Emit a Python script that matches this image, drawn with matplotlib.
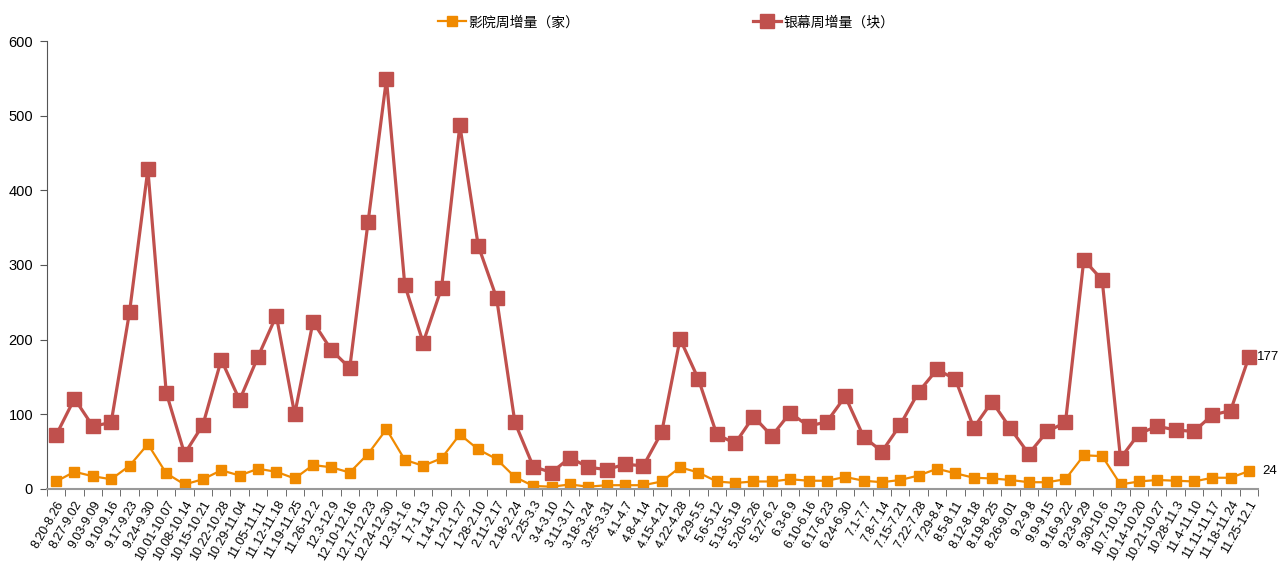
import matplotlib
matplotlib.use("Agg")
import matplotlib.pyplot as plt

plt.rcParams['font.family'] = ['Liberation Sans', 'Noto Sans CJK SC', 'DejaVu Sans']

weeks = ['8.20-8.26', '8.27-9.02', '9.03-9.09', '9.10-9.16', '9.17-9.23', '9.24-9.30',
         '10.01-10.07', '10.08-10.14', '10.15-10.21', '10.22-10.28', '10.29-11.04',
         '11.05-11.11', '11.12-11.18', '11.19-11.25', '11.26-12.2', '12.3-12.9',
         '12.10-12.16', '12.17-12.23', '12.24-12.30', '12.31-1.6', '1.7-1.13',
         '1.14-1.20', '1.21-1.27', '1.28-2.10', '2.11-2.17', '2.18-2.24', '2.25-3.3',
         '3.4-3.10', '3.11-3.17', '3.18-3.24', '3.25-3.31', '4.1-4.7', '4.8-4.14',
         '4.15-4.21', '4.22-4.28', '4.29-5.5', '5.6-5.12', '5.13-5.19', '5.20-5.26',
         '5.27-6.2', '6.3-6.9', '6.10-6.16', '6.17-6.23', '6.24-6.30', '7.1-7.7',
         '7.8-7.14', '7.15-7.21', '7.22-7.28', '7.29-8.4', '8.5-8.11', '8.12-8.18',
         '8.19-8.25', '8.26-9.01', '9.2-9.8', '9.9-9.15', '9.16-9.22', '9.23-9.29',
         '9.30-10.6', '10.7-10.13', '10.14-10.20', '10.21-10.27', '10.28-11.3',
         '11.4-11.10', '11.11-11.17', '11.18-11.24', '11.25-12.1']

cinemas = [10, 23, 17, 13, 31, 60, 21, 6, 13, 25, 18, 27, 23, 14, 32, 29, 22, 47, 80,
           39, 31, 41, 73, 53, 40, 16, 4, 3, 6, 3, 5, 5, 5, 10, 29, 22, 10, 8, 10, 10,
           13, 11, 11, 16, 11, 9, 12, 18, 27, 21, 15, 14, 12, 9, 9, 13, 45, 44, 6, 10,
           12, 11, 10, 15, 15, 24]

screens = [72, 121, 84, 89, 237, 428, 129, 47, 86, 173, 119, 177, 232, 100, 224, 186,
           162, 358, 549, 273, 196, 269, 487, 326, 256, 89, 30, 22, 42, 29, 26, 33, 31,
           76, 201, 147, 73, 61, 97, 71, 102, 84, 90, 124, 70, 50, 86, 130, 160, 147, 82,
           117, 81, 47, 77, 89, 307, 280, 41, 74, 84, 79, 77, 99, 105, 177]

orange = '#F08A00'
red = '#C0504D'

fig = plt.figure(figsize=(12.79, 5.62), dpi=100)
ax = fig.add_axes([0.0367, 0.13, 0.947, 0.797])

x = list(range(len(weeks)))
l1, = ax.plot(x, cinemas, color=orange, lw=1.6, marker='s', ms=7.5, mec=orange,
              label='影院周增量（家）')
l2, = ax.plot(x, screens, color=red, lw=2.3, marker='s', ms=10, mec=red,
              label='银幕周增量（块）')

# end-of-series labels
ax.text(x[-1] + 0.45, screens[-1], str(screens[-1]), va='center', ha='left', fontsize=9.5)
ax.text(x[-1] + 0.7, cinemas[-1], str(cinemas[-1]), va='center', ha='left', fontsize=9.5)

ax.set_xlim(-0.5, len(weeks) - 0.5)
ax.set_ylim(0, 600)
ax.set_yticks(range(0, 601, 100))
ax.tick_params(axis='y', labelsize=10.5, length=5, color='#555555', pad=5)

ax.set_xticks(x)
ax.set_xticklabels(weeks, rotation=60, ha='right', rotation_mode='anchor', fontsize=9)
ax.set_xticks([i - 0.5 for i in range(len(weeks) + 1)], minor=True)
ax.tick_params(axis='x', which='major', length=0, pad=7)
ax.tick_params(axis='x', which='minor', length=5, color='#555555')

for s in ['top', 'right']:
    ax.spines[s].set_visible(False)
ax.spines['left'].set_color('#555555')
ax.spines['bottom'].set_color('#999999')
ax.spines['bottom'].set_linewidth(1.5)

fig.legend(handles=[l1, l2], loc='upper center', bbox_to_anchor=(0.521, 0.995), ncol=2,
           frameon=False, handlelength=2, handletextpad=0.2, columnspacing=12.5,
           prop={'family': ['Noto Sans CJK SC', 'DejaVu Sans'], 'size': 10})

fig.savefig('out.png', dpi=100)
